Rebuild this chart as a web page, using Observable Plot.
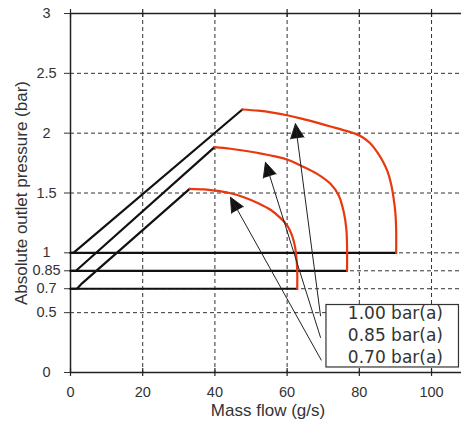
<!DOCTYPE html>
<html><head><meta charset="utf-8">
<script src="https://cdn.jsdelivr.net/npm/d3@7"></script>
<script src="https://cdn.jsdelivr.net/npm/@observablehq/plot@0.6"></script>
<style>body{margin:0;background:#fff} svg{display:block}</style>
</head><body><div id="chart"></div>
<script>
// ---- data ----
const xTicks = [0, 20, 40, 60, 80, 100];
const yTicks = [0, 0.5, 0.7, 0.85, 1, 1.5, 2, 2.5, 3];
const yTickLabels = ["0", "0.5", "0.7", "0.85", "1", "1.5", "2", "2.5", "3"];
const xGrid = [20, 40, 60, 80, 100];
const yGrid = [0.5, 0.7, 0.85, 1, 1.5, 2, 2.5];

const seriesNames = ["1.00 bar(a)", "0.85 bar(a)", "0.70 bar(a)"];
const inletPressure = [1.0, 0.85, 0.7];
const chokeFlow = [90.2, 76.6, 62.8];

// black rising (surge-side) lines
const rise100X = [0, 0.8, 2.2, 47.6];
const rise100Y = [1.0, 1.0, 1.035, 2.198];
const rise085X = [0, 1.5, 3, 39.9];
const rise085Y = [0.85, 0.85, 0.89, 1.883];
const rise070X = [0, 1.8, 3.2, 33];
const rise070Y = [0.7, 0.7, 0.745, 1.535];

// red max-pressure curves
const red100X = [47.6, 52, 56, 60, 64, 68, 72, 76, 79, 81, 83, 85, 86.5, 87.8, 88.8, 89.5, 90.0, 90.2, 90.2];
const red100Y = [2.198, 2.188, 2.172, 2.150, 2.122, 2.090, 2.056, 2.022, 1.994, 1.964, 1.915, 1.84, 1.765, 1.68, 1.575, 1.455, 1.33, 1.2, 1.0];
const red085X = [39.9, 44.3, 51.7, 60, 63.7, 68.3, 72, 74.3, 75.7, 76.4, 76.6, 76.6];
const red085Y = [1.883, 1.87, 1.836, 1.78, 1.73, 1.66, 1.577, 1.479, 1.339, 1.2, 1.05, 0.85];
const red070X = [33, 37, 40, 44, 48, 52, 55.4, 58.2, 60, 61.3, 62.2, 62.6, 62.8, 62.8];
const red070Y = [1.535, 1.53, 1.52, 1.50, 1.465, 1.415, 1.36, 1.29, 1.23, 1.15, 1.05, 0.95, 0.85, 0.7];

// annotation arrows (tail at the label box, tip at the curve)
const arrowTailX = [69.25, 69.25, 69.45];
const arrowTailY = [0.474, 0.293, 0.104];
const arrowTipX = [62.3, 54.0, 44.3];
const arrowTipY = [2.079, 1.757, 1.464];

// ---- build tables ----
const toRows = (id, xs, ys) => xs.map((x, i) => ({id, x, y: ys[i]}));
const blackRows = [
  ...inletPressure.flatMap((p, i) => toRows("h" + i, [0, chokeFlow[i]], [p, p])),
  ...toRows("r0", rise100X, rise100Y),
  ...toRows("r1", rise085X, rise085Y),
  ...toRows("r2", rise070X, rise070Y)
];
const redRows = [
  ...toRows("c0", red100X, red100Y),
  ...toRows("c1", red085X, red085Y),
  ...toRows("c2", red070X, red070Y)
];
const arrows = seriesNames.map((name, i) => ({
  name, x1: arrowTailX[i], y1: arrowTailY[i], x2: arrowTipX[i], y2: arrowTipY[i]
}));

const grid = {stroke: "#333", strokeWidth: 1, strokeDasharray: "4,3"};

const chart = Plot.plot({
  width: 461,
  height: 428,
  marginLeft: 70,
  marginRight: 0,
  marginTop: 13,
  marginBottom: 56,
  x: {domain: [0, 108.3]},
  y: {domain: [0, 3]},
  style: {fontFamily: "'Liberation Sans', Arial, sans-serif", fontSize: "14.5px", color: "#333", background: "#fff"},
  marks: [
    Plot.ruleX(xGrid, grid),
    Plot.ruleY(yGrid, grid),
    Plot.ruleX([0], {stroke: "#222", strokeWidth: 1.5}),
    Plot.ruleY([0, 3], {stroke: "#222", strokeWidth: 1.5}),
    Plot.ruleX(xTicks, {y1: -0.033, y2: 0.033, stroke: "#222", strokeWidth: 1.2}),
    Plot.ruleX(xTicks, {y1: 2.967, y2: 3.033, stroke: "#222", strokeWidth: 1.2}),
    Plot.axisY({
      ticks: yTicks,
      tickFormat: d => yTickLabels[yTicks.indexOf(d)],
      tickSize: 6, tickPadding: 18, textAnchor: "middle", label: null
    }),
    Plot.axisX({ticks: xTicks, tickSize: 0, tickPadding: 14, label: null}),
    Plot.text(["Absolute outlet pressure (bar)"], {
      text: d => d, frameAnchor: "left", textAnchor: "middle", dx: -49, rotate: -90, fontSize: 17, fill: "#333"
    }),
    Plot.text(["Mass flow (g/s)"], {
      text: d => d, frameAnchor: "bottom", dy: 43, dx: 2, fontSize: 17, fill: "#333"
    }),
    Plot.line(blackRows, {x: "x", y: "y", z: "id", stroke: "#111", strokeWidth: 2.2, curve: "linear"}),
    Plot.line(redRows, {x: "x", y: "y", z: "id", stroke: "#e8380d", strokeWidth: 2.2, curve: "catmull-rom"}),
    Plot.arrow(arrows, {
      x1: "x1", y1: "y1", x2: "x2", y2: "y2",
      stroke: "#222", fill: "#111", strokeWidth: 1, headLength: 24, headAngle: 50
    }),
    Plot.rect([0], {x1: 70.9, x2: 107.6, y1: 0.042, y2: 0.564, fill: "#fff", stroke: "#333", strokeWidth: 1.2}),
    Plot.text(seriesNames, {
      text: d => d, x: 90, y: (d, i) => 0.489 - i * 0.1815,
      fontFamily: "'DejaVu Sans', sans-serif", fontSize: 17, fill: "#333"
    })
  ]
});
document.getElementById("chart").append(chart);
</script>
</body></html>
